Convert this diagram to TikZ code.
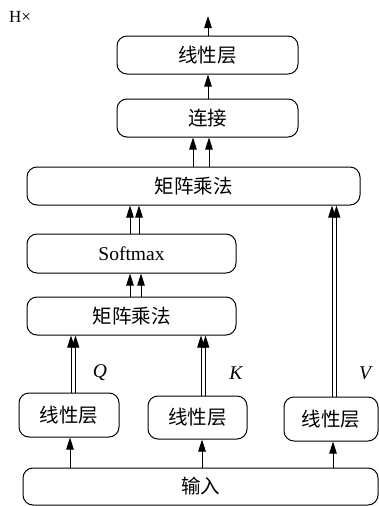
\documentclass[tikz,border=0pt]{standalone}
\usepackage{fontspec}
\setmainfont{Liberation Serif}
\newfontfamily\cjk{Noto Sans CJK SC}
\usetikzlibrary{arrows.meta}
\begin{document}
\begin{tikzpicture}[x=1pt,y=-1pt,
  box/.style={draw,line width=1pt,rounded corners=10pt,inner sep=0pt,
    font=\fontsize{19.5}{22}\selectfont\cjk},
  arr/.style={line width=1pt,-{Triangle[length=12pt,width=7.5pt]}},
  lbl/.style={font=\fontsize{19.5}{22}\selectfont\itshape}]
\useasboundingbox (0,0) rectangle (379,506);
\node (hx) at (20,17) {\fontsize{17}{18}\selectfont H×};
\node[box,minimum width=181pt,minimum height=38pt] (lin) at (207.5,55) {线性层};
\node[box,minimum width=181pt,minimum height=38pt] (concat) at (207.5,118) {连接};
\node[box,minimum width=333pt,minimum height=38pt] (bigmm) at (193.5,186) {矩阵乘法};
\node[box,minimum width=209pt,minimum height=39pt,font=\fontsize{19.5}{22}\selectfont\rmfamily] (soft) at (131.5,253.5) {Softmax};
\node[box,minimum width=209pt,minimum height=38pt] (mm) at (131.5,316) {矩阵乘法};
\node[box,minimum width=100pt,minimum height=44pt] (linq) at (69,415) {线性层};
\node[box,minimum width=99pt,minimum height=43pt] (link) at (197.5,417.5) {线性层};
\node[box,minimum width=94pt,minimum height=44pt] (linv) at (331,419) {线性层};
\node[box,minimum width=355pt,minimum height=37pt] (inp) at (200.5,486.5) {输入};
\coordinate (out) at (208,16);
% single arrows
\draw[arr] (lin.north -| out) -- (out);
\draw[arr] (concat.north -| out) -- (lin.south -| out);
\draw[arr] (inp.north -| 70,0) -- (linq.south -| 70,0);
\draw[arr] (inp.north -| 202,0) -- (link.south -| 202,0);
\draw[arr] (inp.north -| 333,0) -- (linv.south -| 333,0);
% double arrows
\foreach \x in {193,209} \draw[arr] (bigmm.north -| \x,0) -- (concat.south -| \x,0);
\foreach \x in {130,139} \draw[arr] (soft.north -| \x,0) -- (bigmm.south -| \x,0);
\foreach \x in {130,141} \draw[arr] (mm.north -| \x,0) -- (soft.south -| \x,0);
\foreach \x in {71,75.5} \draw[arr] (linq.north -| \x,0) -- (mm.south -| \x,0);
\foreach \x in {201,205.5} \draw[arr] (link.north -| \x,0) -- (mm.south -| \x,0);
\foreach \x in {332,336.5} \draw[arr] (linv.north -| \x,0) -- (bigmm.south -| \x,0);
\node[lbl] (q) at (100,373) {Q};
\node[lbl] (k) at (236,373) {K};
\node[lbl] (v) at (365,373) {V};
\end{tikzpicture}
\end{document}
